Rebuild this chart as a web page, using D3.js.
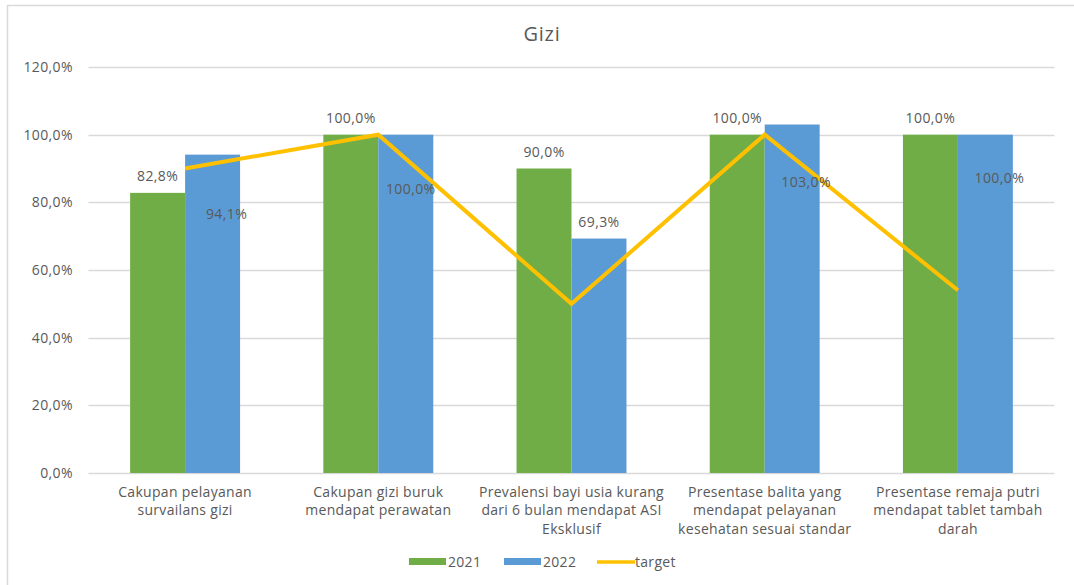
<!DOCTYPE html>
<html>
<head>
<meta charset="utf-8">
<script src="https://cdn.jsdelivr.net/npm/d3@7"></script>
<style>
  html, body { margin: 0; padding: 0; background: #fff; }
  svg { display: block; }
  text { font-family: "Open Sans", "Noto Sans", sans-serif; fill: #595959; }
</style>
</head>
<body>
<script>
const categories = [
  ["Cakupan pelayanan", "survailans gizi"],
  ["Cakupan gizi buruk", "mendapat perawatan"],
  ["Prevalensi bayi usia kurang", "dari 6 bulan mendapat ASI", "Eksklusif"],
  ["Presentase balita yang", "mendapat pelayanan", "kesehatan sesuai standar"],
  ["Presentase remaja putri", "mendapat tablet tambah", "darah"]
];
const series = ["2021", "2022"];
const values2021 = [82.8, 100.0, 90.0, 100.0, 100.0];
const values2022 = [94.1, 100.0, 69.3, 103.0, 100.0];
const target = [90, 100, 50, 100, 54];
const yTicks = [0, 20, 40, 60, 80, 100, 120];
const title = "Gizi";

const W = 1074, H = 585;
const colors = { "2021": "#70AD47", "2022": "#5B9BD5", target: "#FFC000" };

const svg = d3.select("body").append("svg").attr("width", W).attr("height", H);

// chart frame (top and left edge visible)
svg.append("line").attr("x1", 7).attr("x2", W).attr("y1", 5.5).attr("y2", 5.5)
  .attr("stroke", "#d9d9d9").attr("stroke-width", 1.5);
svg.append("line").attr("x1", 7.5).attr("x2", 7.5).attr("y1", 5).attr("y2", H)
  .attr("stroke", "#d9d9d9").attr("stroke-width", 1.5);

const x0 = d3.scaleBand().domain(d3.range(categories.length))
  .range([88.5, 1054.5]).paddingInner(0.431).paddingOuter(0.2155);
const x1 = d3.scaleBand().domain(series).range([0, x0.bandwidth()]);
const y = d3.scaleLinear().domain([0, 120]).range([473, 67]);

const fmt = v => d3.format(".1f")(v).replace(".", ",") + "%";

// gridlines
svg.append("g").selectAll("line").data(yTicks).join("line")
  .attr("x1", 88.5).attr("x2", 1054.5)
  .attr("y1", d => Math.round(y(d)) + 0.5).attr("y2", d => Math.round(y(d)) + 0.5)
  .attr("stroke", "#d9d9d9").attr("stroke-width", 1.3);

// y axis labels
const yAxis = d3.axisLeft(y).tickValues(yTicks).tickFormat(fmt).tickSize(0).tickPadding(0);
const gy = svg.append("g").attr("transform", "translate(73,0)").call(yAxis);
gy.attr("font-size", null).attr("font-family", null);
gy.select(".domain").remove();
gy.selectAll("text")
  .style("font-size", "14px")
  .style("fill", "#595959")
  .style("font-family", "'Open Sans', sans-serif")
  .style("letter-spacing", "0.4px");

// bars
const data = [values2021, values2022];
const gBars = svg.append("g");
series.forEach((s, si) => {
  gBars.selectAll(".b" + s).data(data[si]).join("rect")
    .attr("x", (d, i) => x0(i) + x1(s))
    .attr("y", d => y(d))
    .attr("width", x1.bandwidth())
    .attr("height", d => y(0) - y(d))
    .attr("fill", colors[s]);
});

// target line
const line = d3.line().x((d, i) => x0(i) + x0.bandwidth() / 2).y(d => y(d));
svg.append("path").datum(target).attr("d", line)
  .attr("fill", "none").attr("stroke", colors.target).attr("stroke-width", 4)
  .attr("stroke-linejoin", "miter");

// data labels (2022 labels manually nudged as in the original)
const nudge2022 = [[14, 76], [5, 71], [0, 0], [14, 74], [14, 60]];
const gLab = svg.append("g").style("font-size", "14px").style("letter-spacing", "0.4px");
values2021.forEach((v, i) => {
  gLab.append("text").attr("x", x0(i) + x1("2021") + x1.bandwidth() / 2)
    .attr("y", y(v) - 16.5).attr("dy", "0.35em").attr("text-anchor", "middle").text(fmt(v));
});
values2022.forEach((v, i) => {
  gLab.append("text").attr("x", x0(i) + x1("2022") + x1.bandwidth() / 2 + nudge2022[i][0])
    .attr("y", y(v) - 16.5 + nudge2022[i][1]).attr("dy", "0.35em").attr("text-anchor", "middle").text(fmt(v));
});

// category labels
const gCat = svg.append("g").style("font-size", "14px").style("letter-spacing", "0.3px");
categories.forEach((lines, i) => {
  const t = gCat.append("text").attr("text-anchor", "middle");
  lines.forEach((l, j) => {
    t.append("tspan").attr("x", x0(i) + x0.bandwidth() / 2).attr("y", 492 + j * 18.5)
      .attr("dy", "0.35em").text(l);
  });
});

// title
svg.append("text").attr("x", 542).attr("y", 34).attr("dy", "0.35em")
  .attr("text-anchor", "middle").style("font-size", "20px").style("letter-spacing", "0.8px").text(title);

// legend
const lg = svg.append("g").style("font-size", "14px").style("letter-spacing", "0.3px");
const legendItems = [
  { key: "2021", x: 409, type: "rect" },
  { key: "2022", x: 504, type: "rect" },
  { key: "target", x: 597, type: "line" }
];
legendItems.forEach(it => {
  if (it.type === "rect") {
    lg.append("rect").attr("x", it.x).attr("y", 558).attr("width", 37).attr("height", 7).attr("fill", colors[it.key]);
    lg.append("text").attr("x", it.x + 39).attr("y", 562).attr("dy", "0.35em").text(it.key);
  } else {
    lg.append("line").attr("x1", it.x).attr("x2", it.x + 38).attr("y1", 562).attr("y2", 562)
      .attr("stroke", colors.target).attr("stroke-width", 3.5);
    lg.append("text").attr("x", it.x + 38).attr("y", 562).attr("dy", "0.35em").text("target");
  }
});
</script>
</body>
</html>
